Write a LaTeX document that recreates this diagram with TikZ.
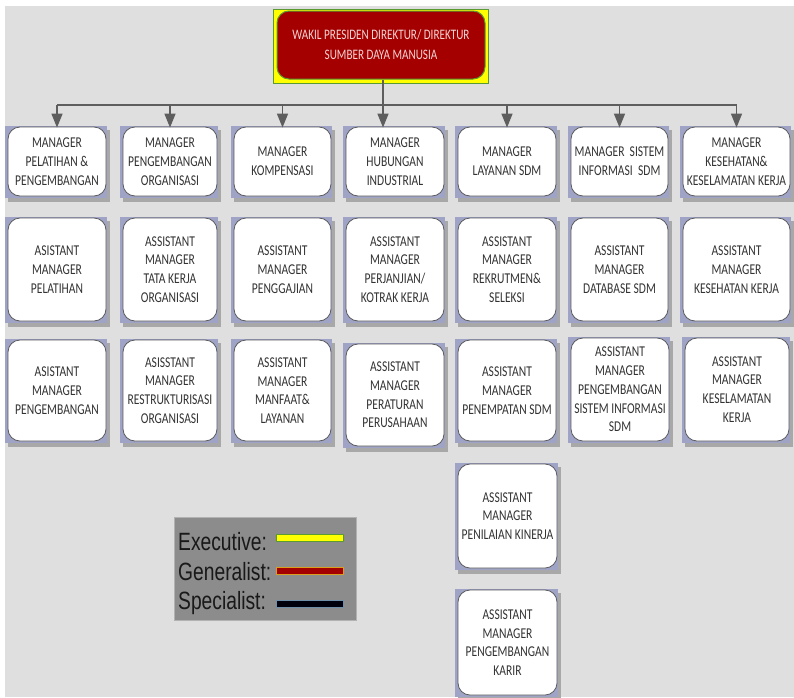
\documentclass[tikz,border=0pt]{standalone}
\usepackage{fontspec}
\usetikzlibrary{arrows.meta}
\newfontfamily\cardfont[FakeStretch=0.77]{Carlito}
\newfontfamily\legendfont[FakeStretch=0.77]{Liberation Sans}

\definecolor{pagebg}{HTML}{DFDFDF}
\definecolor{cardframe}{HTML}{9FA3C6}
\definecolor{cardshadow}{HTML}{A8A8A8}
\definecolor{cardline}{HTML}{5A5A5A}
\definecolor{cardtext}{HTML}{333333}
\definecolor{execred}{HTML}{A50000}
\definecolor{execyellow}{HTML}{FFFF00}
\definecolor{execgreen}{HTML}{5A9A32}
\definecolor{toptext}{HTML}{F2D4D4}
\definecolor{legendbg}{HTML}{8C8C8C}
\definecolor{linkgray}{HTML}{5E5E5E}
\definecolor{goldline}{HTML}{D9A020}
\definecolor{steelline}{HTML}{6F8FA8}

\tikzset{
  card/.style={draw=cardline, line width=0.8pt, fill=white, rounded corners=12pt,
    align=center, inner sep=0pt, text=cardtext,
    font=\cardfont\fontsize{15}{18.7}\selectfont},
  link/.style={draw=linkgray, line width=1.4pt},
  arrowlink/.style={link, -{Triangle[length=14pt,width=11pt]}, shorten >=-1pt},
  legendtext/.style={anchor=west, inner sep=0pt, text=black!90,
    font=\legendfont\fontsize{25}{28}\selectfont},
  swatch/.style={minimum width=67pt, minimum height=7pt, inner sep=0pt, line width=1pt},
}

% card: name, x1, y1, x2, y2, text (pixel grid, y grows downwards)
\newcommand\orgcard[6]{%
  \fill[cardshadow] ({#2+3},{#3+4}) rectangle ({#4+3},{#5+4});
  \fill[cardframe] (#2,#3) rectangle (#4,#5);
  \node[card, minimum width={(#4-#2-4)*1pt}, minimum height={(#5-#3-3)*1pt}]
    (#1) at ({(#2+#4)/2+1},{(#3+#5-1)/2}) {#6};
}

\begin{document}
\begin{tikzpicture}[x=1pt, y=-1pt]
\useasboundingbox (0,0) rectangle (794,697);
\fill[white] (0,0) rectangle (794,697);
\fill[pagebg] (5,6) rectangle (794,697);

% executive box
\fill[execyellow, draw=execgreen, line width=0.8pt] (273,9) rectangle (488,83);
\node[draw=execgreen, line width=1pt, fill=execred, rounded corners=12pt,
  minimum width=208pt, minimum height=68pt, inner sep=0pt, align=center,
  text=toptext, font=\cardfont\fontsize{14.5}{20}\selectfont]
  (top) at (381,45) {WAKIL PRESIDEN DIREKTUR/ DIREKTUR\\SUMBER DAYA MANUSIA};

% managers
\orgcard{m1}{5}{126}{107}{198}{MANAGER\\PELATIHAN \&\\PENGEMBANGAN}
\orgcard{m2}{120}{126}{218}{198}{MANAGER\\PENGEMBANGAN\\ORGANISASI}
\orgcard{m3}{231}{126}{332}{198}{MANAGER\\KOMPENSASI}
\orgcard{m4}{343}{126}{445}{198}{MANAGER\\HUBUNGAN\\INDUSTRIAL}
\orgcard{m5}{455}{126}{557}{198}{MANAGER\\LAYANAN SDM}
\orgcard{m6}{568}{126}{669}{198}{MANAGER\ \ SISTEM\\INFORMASI\ \ SDM}
\orgcard{m7}{680}{126}{791}{198}{MANAGER\\KESEHATAN\&\\KESELAMATAN KERJA}

% assistant managers, second row
\orgcard{a1}{5}{217}{107}{323}{ASISTANT\\MANAGER\\PELATIHAN}
\orgcard{a2}{120}{217}{218}{323}{ASSISTANT\\MANAGER\\TATA KERJA\\ORGANISASI}
\orgcard{a3}{231}{217}{332}{323}{ASSISTANT\\MANAGER\\PENGGAJIAN}
\orgcard{a4}{343}{217}{445}{323}{ASSISTANT\\MANAGER\\PERJANJIAN/\\KOTRAK KERJA}
\orgcard{a5}{455}{217}{557}{323}{ASSISTANT\\MANAGER\\REKRUTMEN\&\\SELEKSI}
\orgcard{a6}{568}{217}{669}{323}{ASSISTANT\\MANAGER\\DATABASE SDM}
\orgcard{a7}{680}{217}{791}{323}{ASSISTANT\\MANAGER\\KESEHATAN KERJA}

% assistant managers, third row
\orgcard{b1}{5}{339}{107}{443}{ASISTANT\\MANAGER\\PENGEMBANGAN}
\orgcard{b2}{120}{339}{218}{443}{ASISSTANT\\MANAGER\\RESTRUKTURISASI\\ORGANISASI}
\orgcard{b3}{231}{339}{332}{443}{ASSISTANT\\MANAGER\\MANFAAT\&\\LAYANAN}
\orgcard{b4}{343}{343}{445}{448}{ASSISTANT\\MANAGER\\PERATURAN\\PERUSAHAAN}
\orgcard{b5}{455}{339}{557}{443}{ASSISTANT\\MANAGER\\PENEMPATAN SDM}
\orgcard{b6}{568}{337}{670}{443}{ASSISTANT\\MANAGER\\PENGEMBANGAN\\SISTEM INFORMASI\\SDM}
\orgcard{b7}{682}{337}{790}{443}{ASSISTANT\\MANAGER\\KESELAMATAN\\KERJA}

% further assistants under layanan SDM
\orgcard{c5}{455}{463}{558}{570}{ASSISTANT\\MANAGER\\PENILAIAN KINERJA}
\orgcard{d5}{455}{589}{558}{697}{ASSISTANT\\MANAGER\\PENGEMBANGAN\\KARIR}

% connectors
\coordinate (bus) at (383,105);
\draw[link] (bus -| m1.north) -- (bus -| m7.north);
\draw[arrowlink] (top.south -| bus) -- (bus |- m4.north);
\foreach \m in {m1,m2,m3,m5,m6,m7}
  \draw[arrowlink] (bus -| \m.north) -- (\m.north);

% legend
\node[fill=legendbg, draw=black!30, line width=0.6pt, minimum width=182pt,
  minimum height=103pt, inner sep=0pt] (legend) at (265,568.5) {};
\node[legendtext] (lexec) at (178,542) {Executive:};
\node[legendtext] (lgen) at (178,572) {Generalist:};
\node[legendtext] (lspec) at (178,603) {Specialist:};
\node[swatch, fill=execyellow, draw=execgreen] (sexec) at (309.5,538) {};
\node[swatch, fill=execred, draw=goldline] (sgen) at (309.5,570.5) {};
\node[swatch, fill=black!95!blue, draw=steelline] (sspec) at (309.5,603.5) {};
\end{tikzpicture}
\end{document}
